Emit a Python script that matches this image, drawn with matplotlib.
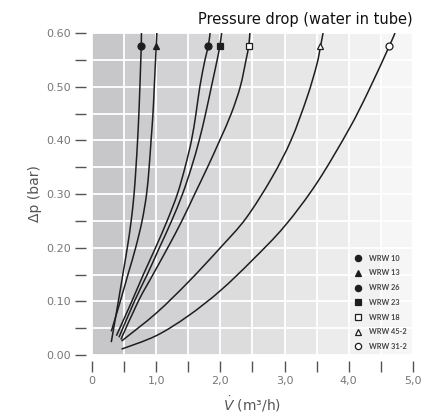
import matplotlib
matplotlib.use('Agg')
import matplotlib.pyplot as plt
from matplotlib.lines import Line2D
from matplotlib.path import Path
from matplotlib.patches import PathPatch
import numpy as np

# series (flow in m3/h, pressure drop in bar)
flow_wrw10 = [0.30, 0.41, 0.48, 0.55, 0.61, 0.655, 0.685, 0.71, 0.73, 0.746, 0.76, 0.767, 0.77]
dp_wrw10 = [0.024, 0.10, 0.15, 0.20, 0.25, 0.30, 0.35, 0.40, 0.45, 0.50, 0.55, 0.575, 0.60]

flow_wrw13 = [0.30, 0.44, 0.56, 0.68, 0.78, 0.85, 0.89, 0.92, 0.95, 0.97, 0.99, 1.00, 1.01]
dp_wrw13 = [0.044, 0.10, 0.15, 0.20, 0.25, 0.30, 0.35, 0.40, 0.45, 0.50, 0.55, 0.575, 0.60]

flow_wrw26 = [0.38, 0.62, 0.80, 0.99, 1.17, 1.33, 1.45, 1.55, 1.62, 1.68, 1.76, 1.81, 1.84]
dp_wrw26 = [0.036, 0.10, 0.15, 0.20, 0.25, 0.30, 0.35, 0.40, 0.45, 0.50, 0.55, 0.575, 0.60]

flow_wrw23 = [0.42, 0.66, 0.86, 1.05, 1.24, 1.41, 1.55, 1.67, 1.77, 1.86, 1.95, 1.99, 2.02]
dp_wrw23 = [0.033, 0.10, 0.15, 0.20, 0.25, 0.30, 0.35, 0.40, 0.45, 0.50, 0.55, 0.575, 0.60]

flow_wrw18 = [0.45, 0.72, 0.95, 1.18, 1.40, 1.60, 1.80, 1.99, 2.17, 2.31, 2.40, 2.44, 2.46]
dp_wrw18 = [0.029, 0.10, 0.15, 0.20, 0.25, 0.30, 0.35, 0.40, 0.45, 0.50, 0.55, 0.575, 0.60]

flow_wrw45 = [0.46, 1.00, 1.50, 2.00, 2.40, 2.80, 3.10, 3.35, 3.50, 3.56, 3.60]
dp_wrw45 = [0.026, 0.078, 0.136, 0.20, 0.255, 0.33, 0.40, 0.48, 0.54, 0.575, 0.60]

flow_wrw31 = [0.46, 1.00, 1.50, 2.00, 2.50, 3.00, 3.50, 4.00, 4.30, 4.63, 4.72]
dp_wrw31 = [0.011, 0.036, 0.073, 0.12, 0.177, 0.24, 0.32, 0.42, 0.49, 0.575, 0.60]

names = ['WRW 10', 'WRW 13', 'WRW 26', 'WRW 23', 'WRW 18', 'WRW 45-2', 'WRW 31-2']
marker_flow = [0.767, 1.00, 1.81, 1.99, 2.44, 3.56, 4.63]
marker_dp = 0.575

x_ticks = [0, 0.5, 1.0, 1.5, 2.0, 2.5, 3.0, 3.5, 4.0, 4.5, 5.0]
x_labels = ['0', '', '1,0', '', '2,0', '', '3,0', '', '4,0', '', '5,0']
y_ticks = [0.0, 0.05, 0.10, 0.15, 0.20, 0.25, 0.30, 0.35, 0.40, 0.45, 0.50, 0.55, 0.60]
y_labels = ['0.00', '', '0.10', '', '0.20', '', '0.30', '', '0.40', '', '0.50', '', '0.60']

curves = [(flow_wrw10, dp_wrw10), (flow_wrw13, dp_wrw13), (flow_wrw26, dp_wrw26),
          (flow_wrw23, dp_wrw23), (flow_wrw18, dp_wrw18), (flow_wrw45, dp_wrw45),
          (flow_wrw31, dp_wrw31)]
markers = ['o', '^', 'o', 's', 's', '^', 'o']
filled = [True, True, True, True, False, False, False]

band_colors = ['#c7c7c9', '#cccccf', '#d2d2d4', '#d7d7d9', '#dcdcdd',
               '#e1e1e2', '#e7e7e7', '#ececec', '#f1f1f1', '#f6f6f6']


def smooth_path(xs, ys):
    # catmull-rom through the read points, drawn as cubic bezier segments
    p = np.column_stack([xs, ys])
    verts = [p[0]]
    codes = [Path.MOVETO]
    n = len(p)
    for i in range(n - 1):
        p0 = p[i - 1] if i > 0 else p[i]
        p1, p2 = p[i], p[i + 1]
        p3 = p[i + 2] if i + 2 < n else p[i + 1]
        c1 = p1 + (p2 - p0) / 6.0
        c2 = p2 - (p3 - p1) / 6.0
        verts += [c1, c2, p2]
        codes += [Path.CURVE4] * 3
    return Path(verts, codes)


fig = plt.figure(figsize=(4.29, 4.16), dpi=100)
ax = fig.add_axes([0.2145, 0.1466, 0.748, 0.774])
ax.set_xlim(0, 5)
ax.set_ylim(0, 0.6)

for i, c in enumerate(band_colors):
    ax.axvspan(i * 0.5, (i + 1) * 0.5, color=c, lw=0, zorder=0)

ax.set_xticks(x_ticks)
ax.set_xticklabels(x_labels)
ax.set_yticks(y_ticks)
ax.set_yticklabels(y_labels)
ax.grid(True, color='white', linewidth=1.3, zorder=1)
ax.set_axisbelow(True)

for s in ax.spines.values():
    s.set_visible(False)
ax.spines['left'].set_position(('outward', 4))
ax.spines['bottom'].set_position(('outward', 4))
ax.tick_params(direction='out', length=8, width=1, color='#555555',
               labelcolor='#777777', labelsize=8, pad=3)

for fx, dy in curves:
    ax.add_patch(PathPatch(smooth_path(fx, dy), facecolor='none',
                           edgecolor='#1e1e1e', linewidth=1.1, zorder=3))
for xm, m, f in zip(marker_flow, markers, filled):
    ax.plot(xm, marker_dp, marker=m, markersize=5, color='#1e1e1e',
            markerfacecolor='#1e1e1e' if f else 'white',
            markeredgewidth=0.9, zorder=4, clip_on=False)

handles = [Line2D([], [], linestyle='none', marker=m, markersize=4.5,
                  color='#1e1e1e', markerfacecolor='#1e1e1e' if f else 'white',
                  markeredgewidth=0.9)
           for m, f in zip(markers, filled)]
leg = ax.legend(handles, names, loc='lower right', bbox_to_anchor=(1.0, -0.005),
                frameon=False, labelspacing=1.05,
                handlelength=0.8, handletextpad=1.0,
                prop={'family': 'Lato', 'weight': 'bold', 'size': 5.3})
for t in leg.get_texts():
    t.set_color('#444444')

ax.text(1.0, 1.018, 'Pressure drop (water in tube)', transform=ax.transAxes,
        ha='right', va='bottom', fontsize=10.5, color='#111111')
ax.set_xlabel(r'$\dot{V}$ (m³/h)', fontsize=10, color='#555555', labelpad=6)
ax.set_ylabel('Δp (bar)', fontsize=10, color='#555555', labelpad=3)

fig.savefig('out.png', dpi=100)
